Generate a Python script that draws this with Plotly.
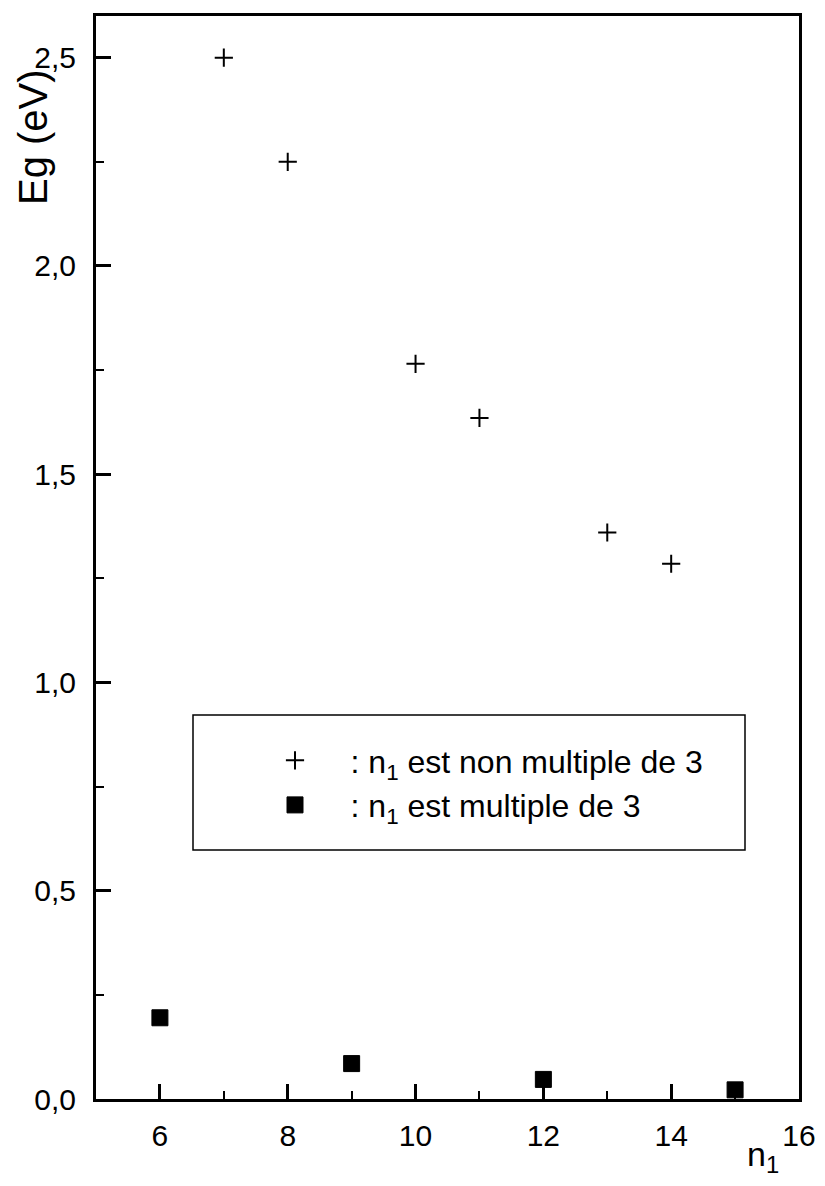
import plotly.graph_objects as go

# Data
n_non_multiple = [7, 8, 10, 11, 13, 14]
eg_non_multiple = [2.50, 2.25, 1.765, 1.635, 1.36, 1.285]

n_multiple = [6, 9, 12, 15]
eg_multiple = [0.195, 0.085, 0.047, 0.022]

NB = "\u00a0"
legend_non = NB * 4 + ": n<sub>1</sub> est non multiple de 3"
legend_mult = NB * 4 + ": n<sub>1</sub> est multiple de 3"

FONT = "Liberation Sans, Arial, sans-serif"

# the page body has an 8px margin on every side: work in screen pixels,
# convert to figure pixels, and keep the figure inside the window
OFF = 8
W, H = 825 - 2 * OFF, 1186 - 2 * OFF
SL, SR, ST, SB = 96, 799, 16, 1099          # plot area in screen pixels
L, T = SL - OFF, ST - OFF
R, B = W - (SR - OFF), H - (SB - OFF)
pw, ph = W - L - R, H - T - B


def px(x):
    return ((x - OFF) - L) / pw


def py(y):
    return 1 - ((y - OFF) - T) / ph


fig = go.Figure()
fig.add_trace(go.Scatter(
    x=n_non_multiple, y=eg_non_multiple, mode="markers", name=legend_non,
    marker=dict(symbol="cross-thin", size=13, color="black",
                line=dict(color="black", width=2)),
))
fig.add_trace(go.Scatter(
    x=n_multiple, y=eg_multiple, mode="markers", name=legend_mult,
    marker=dict(symbol="square", size=16, color="black",
                line=dict(color="black", width=1)),
))

fig.update_layout(
    width=W, height=H,
    margin=dict(l=L, r=R, t=T, b=B, autoexpand=False),
    paper_bgcolor="white", plot_bgcolor="white",
    separators=", ",
    font=dict(family=FONT, color="black", size=30),
    showlegend=True,
    legend=dict(
        x=px(275), y=py(733), xanchor="left", yanchor="top",
        bgcolor="rgba(0,0,0,0)", borderwidth=0,
        font=dict(family=FONT, size=32, color="black"),
        itemsizing="trace", tracegroupgap=0,
    ),
    xaxis=dict(
        range=[5, 16], tickmode="linear", tick0=6, dtick=2,
        ticks="inside", ticklen=15, tickwidth=2.5, tickcolor="black",
        minor=dict(ticks="inside", ticklen=8, tickwidth=2, dtick=1, tick0=5, tickcolor="black"),
        showline=True, linewidth=3, linecolor="black", mirror=True,
        showgrid=False, zeroline=False,
        ticklabelstandoff=8, ticklabeloverflow="allow",
        tickfont=dict(family=FONT, size=30, color="black"),
    ),
    yaxis=dict(
        range=[0, 2.6], tickmode="linear", tick0=0, dtick=0.5, tickformat=".1f",
        ticks="inside", ticklen=15, tickwidth=2.5, tickcolor="black",
        minor=dict(ticks="inside", ticklen=8, tickwidth=2, dtick=0.25, tickcolor="black"),
        showline=True, linewidth=3, linecolor="black", mirror=True,
        showgrid=False, zeroline=False,
        ticklabelstandoff=11,
        tickfont=dict(family=FONT, size=30, color="black"),
    ),
    shapes=[dict(
        type="rect", xref="paper", yref="paper",
        x0=px(193), x1=px(745), y0=py(850), y1=py(715),
        line=dict(color="black", width=1.5), fillcolor="rgba(0,0,0,0)",
    )],
    annotations=[
        dict(text="Eg (eV)", xref="paper", yref="paper", x=px(33), y=py(137),
             xanchor="center", yanchor="middle", textangle=-90, showarrow=False,
             font=dict(family=FONT, size=40, color="black")),
        dict(text="n<sub>1</sub>", xref="paper", yref="paper", x=px(763), y=py(1156),
             xanchor="center", yanchor="middle", showarrow=False,
             font=dict(family=FONT, size=34, color="black")),
    ],
)

fig.write_html("out.html")
